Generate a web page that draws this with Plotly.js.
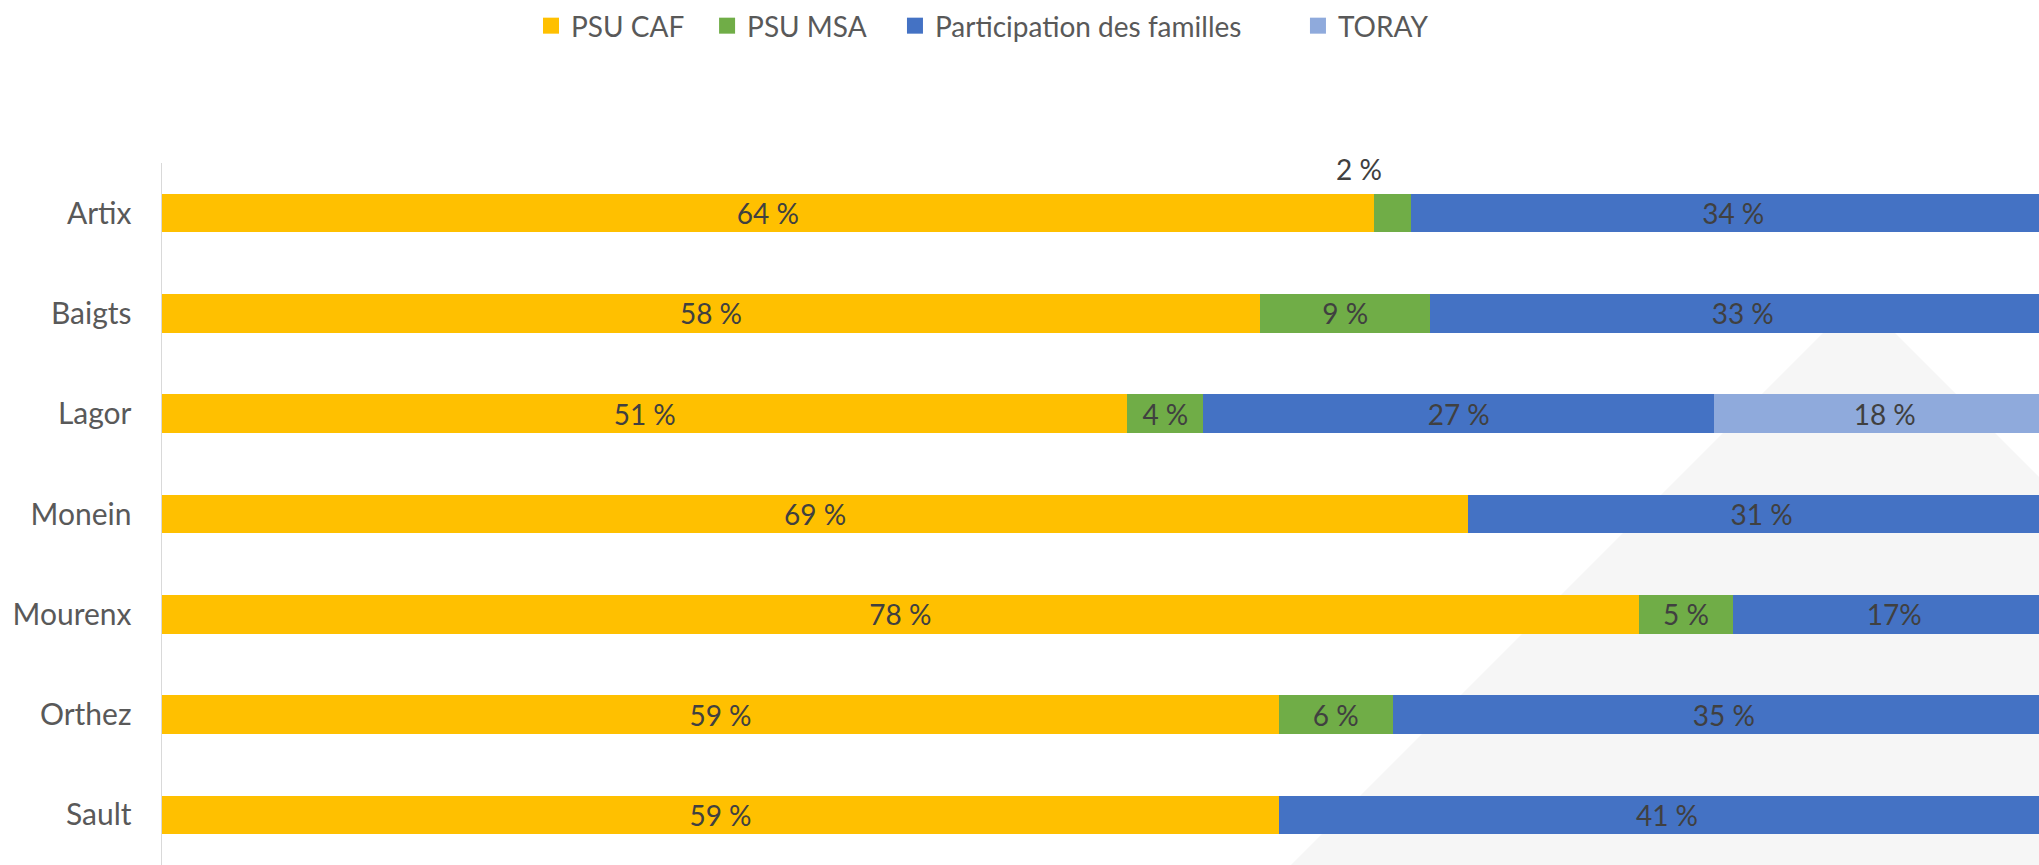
<!DOCTYPE html>
<html>
<head>
<meta charset="utf-8">
<script src="https://cdn.plot.ly/plotly-3.0.1.min.js"></script>
<style>html,body{margin:0;padding:0;background:#fff;}#chart{width:2039px;height:865px;}</style>
</head>
<body>
<div id="chart"></div>
<script>
const communes = ['Artix', 'Baigts', 'Lagor', 'Monein', 'Mourenx', 'Orthez', 'Sault'];
const seriesNames = ['PSU CAF', 'PSU MSA', 'Participation des familles', 'TORAY'];
const psuCaf = [64, 58, 51, 69, 78, 59, 59];
const psuMsa = [2, 9, 4, null, 5, 6, null];
const familles = [34, 33, 27, 31, 17, 35, 41];
const toray = [null, null, 18, null, null, null, null];
const psuCafLabels = ['64 %', '58 %', '51 %', '69 %', '78 %', '59 %', '59 %'];
const psuMsaLabels = ['', '9 %', '4 %', '', '5 %', '6 %', ''];
const famillesLabels = ['34 %', '33 %', '27 %', '31 %', '17%', '35 %', '41 %'];
const torayLabels = ['', '', '18 %', '', '', '', ''];
const outsideLabel = {commune: 'Artix', text: '2 %'};
const colors = ['#FFC000', '#70AD47', '#4472C4', '#8FAADC'];

const FONT = 'Lato, "Open Sans", sans-serif';
const values = [psuCaf, psuMsa, familles, toray];
const labels = [psuCafLabels, psuMsaLabels, famillesLabels, torayLabels];
const legendIds = ['legend', 'legend2', 'legend3', 'legend4'];

const barTraces = seriesNames.map((name, i) => ({
  type: 'bar',
  orientation: 'h',
  name: name,
  y: communes,
  x: values[i],
  text: labels[i],
  textposition: 'inside',
  insidetextanchor: 'middle',
  textangle: 0,
  constraintext: 'none',
  texttemplate: '%{text}',
  textfont: {family: FONT, size: 28, color: '#404040'},
  marker: {color: colors[i], line: {width: 0}},
  hoverinfo: 'skip',
  showlegend: false
}));

// legend-only entries (square swatches like the reference)
const legendTraces = seriesNames.map((name, i) => ({
  type: 'scatter',
  mode: 'markers',
  name: name,
  x: [null],
  y: [null],
  marker: {symbol: 'square', size: 16, color: colors[i]},
  hoverinfo: 'skip',
  legend: legendIds[i],
  showlegend: true
}));

const idx = communes.indexOf(outsideLabel.commune);
const legendX = [0.1966, 0.2904, 0.3905, 0.6052];
const legendFont = {family: FONT, size: 28, color: '#595959'};
const layout = {
  width: 2039,
  height: 865,
  margin: {l: 162, r: 0, t: 163, b: 0, pad: 0},
  paper_bgcolor: '#ffffff',
  plot_bgcolor: 'rgba(0,0,0,0)',
  barmode: 'stack',
  bargap: 0.616,
  showlegend: true,
  xaxis: {range: [0, 99.15], showgrid: false, zeroline: false, showticklabels: false, showline: false, fixedrange: true},
  yaxis: {
    type: 'category',
    range: [6.5, -0.5],
    showgrid: false,
    zeroline: false,
    showline: true,
    linecolor: '#d9d9d9',
    linewidth: 1.5,
    ticks: '',
    ticklabelstandoff: 23,
    tickfont: {family: FONT, size: 30, color: '#595959'}
  },
  shapes: [{
    type: 'path', xref: 'paper', yref: 'paper', layer: 'below',
    path: 'M 0.6015 0 L 0.9041 0.8091 L 1.2067 0 Z',
    fillcolor: '#f6f6f6', line: {width: 0}
  }],
  annotations: [{
    x: psuCaf[idx] + psuMsa[idx] / 2, y: communes[idx], xref: 'x', yref: 'y',
    text: outsideLabel.text, showarrow: false, xshift: -34, yshift: 44,
    font: {family: FONT, size: 28, color: '#404040'}
  }]
};
legendIds.forEach((id, i) => {
  layout[id] = {x: legendX[i], xanchor: 'left', y: 1.1952, yanchor: 'middle', orientation: 'h',
    font: legendFont, bgcolor: 'rgba(0,0,0,0)', borderwidth: 0};
});

Plotly.newPlot('chart', barTraces.concat(legendTraces), layout, {displayModeBar: false, staticPlot: true});
</script>
</body>
</html>
